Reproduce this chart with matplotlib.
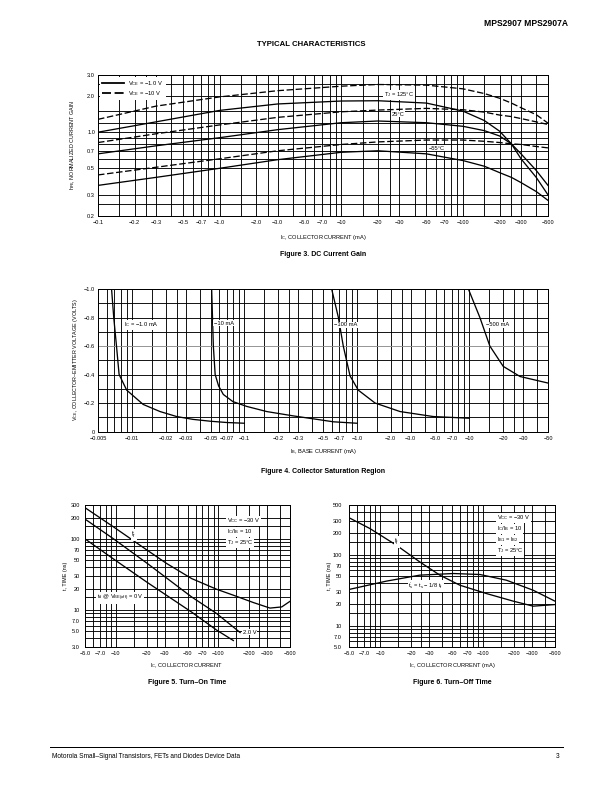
import numpy as np
import matplotlib
matplotlib.use('Agg')
import matplotlib.pyplot as plt
from matplotlib.lines import Line2D
from matplotlib.ticker import NullFormatter

plt.rcParams['font.family'] = ['Liberation Sans', 'DejaVu Sans']
plt.rcParams['mathtext.fontset'] = 'custom'
plt.rcParams['mathtext.rm'] = 'Liberation Sans'
plt.rcParams['mathtext.it'] = 'Liberation Sans:italic'

# ---------------- data ----------------
# Figure 3, DC current gain (|Ic| in mA, normalized hFE)
ic3 = [0.1, 0.3, 1, 3, 10, 20, 50, 100, 150, 200, 250, 300, 400, 500]
h125_10v = [1.28, 1.65, 1.97, 2.22, 2.42, 2.50, 2.47, 2.30, 2.10, 1.92, 1.75, 1.60, 1.40, 1.19]
h125_1v = [1.00, 1.22, 1.52, 1.72, 1.82, 1.83, 1.75, 1.50, 1.25, 1.02, 0.80, 0.60, 0.42, 0.30]
h25_10v = [0.82, 0.97, 1.15, 1.33, 1.48, 1.53, 1.58, 1.54, 1.47, 1.39, 1.35, 1.30, 1.22, 1.16]
h25_1v = [0.66, 0.77, 0.90, 1.05, 1.20, 1.24, 1.20, 1.12, 1.03, 0.93, 0.80, 0.66, 0.48, 0.36]
h55_10v = [0.44, 0.51, 0.60, 0.70, 0.79, 0.83, 0.86, 0.86, 0.84, 0.82, 0.80, 0.79, 0.76, 0.74]
h55_1v = [0.36, 0.42, 0.50, 0.59, 0.68, 0.70, 0.66, 0.58, 0.52, 0.46, 0.42, 0.38, 0.32, 0.27]
ic3_ticks = [0.1, 0.2, 0.3, 0.5, 0.7, 1, 2, 3, 5, 7, 10, 20, 30, 50, 70, 100, 200, 300, 500]
ic3_labels = ['−0.1', '−0.2', '−0.3', '−0.5', '−0.7', '−1.0', '−2.0', '−3.0', '−5.0', '−7.0',
              '−10', '−20', '−30', '−50', '−70', '−100', '−200', '−300', '−500']
h3_ticks = [0.2, 0.3, 0.5, 0.7, 1.0, 2.0, 3.0]
h3_labels = ['0.2', '0.3', '0.5', '0.7', '1.0', '2.0', '3.0']
h3_grid = [0.2, 0.25, 0.3, 0.5, 0.6, 0.7, 0.8, 0.9, 1.0, 1.2, 1.5, 2.0, 2.5, 3.0]

# Figure 4, collector saturation (|Ib| in mA, Vce in volts)
ib_1ma = [0.0066, 0.0069, 0.0073, 0.0077, 0.009, 0.0126, 0.0178, 0.025, 0.035, 0.05, 0.07, 0.1]
vce_1ma = [-1.0, -0.8, -0.6, -0.4, -0.29, -0.19, -0.14, -0.105, -0.085, -0.072, -0.063, -0.058]
ib_10ma = [0.0512, 0.053, 0.055, 0.059, 0.065, 0.079, 0.105, 0.158, 0.27, 0.47, 0.62, 1.0]
vce_10ma = [-1.0, -0.6, -0.4, -0.32, -0.26, -0.21, -0.176, -0.14, -0.11, -0.082, -0.068, -0.058]
ib_100ma = [0.597, 0.685, 0.757, 0.87, 1.03, 1.45, 2.42, 4.77, 10]
vce_100ma = [-1.0, -0.8, -0.6, -0.39, -0.29, -0.2, -0.14, -0.105, -0.093]
ib_500ma = [9.8, 12.4, 15.2, 20, 28.2, 50]
vce_500ma = [-1.0, -0.8, -0.6, -0.457, -0.386, -0.34]
ib4_ticks = [0.005, 0.01, 0.02, 0.03, 0.05, 0.07, 0.1, 0.2, 0.3, 0.5, 0.7, 1, 2, 3, 5, 7, 10, 20, 30, 50]
ib4_labels = ['−0.005', '−0.01', '−0.02', '−0.03', '−0.05', '−0.07', '−0.1', '−0.2', '−0.3', '−0.5',
              '−0.7', '−1.0', '−2.0', '−3.0', '−5.0', '−7.0', '−10', '−20', '−30', '−50']
v4_ticks = [0, -0.2, -0.4, -0.6, -0.8, -1.0]
v4_labels = ['0', '−0.2', '−0.4', '−0.6', '−0.8', '−1.0']
v4_minor = [-0.1, -0.3, -0.5, -0.7, -0.9]

# Figure 5, turn-on time (|Ic| in mA, t in ns)
ic5_tr = [5, 9.45, 20.3, 31.3, 54.9, 96.3, 140, 219, 319, 415, 500]
t5_tr = [275, 148, 69, 45, 27.6, 19.5, 16.1, 12.7, 10.6, 11.0, 13.2]
ic5_mid = [5, 9.5, 20.3, 54.9, 96, 163]
t5_mid = [190, 100, 45, 15.2, 8.9, 4.8]
ic5_low = [5, 9.5, 20.3, 54.9, 96, 140]
t5_low = [100, 52, 24.3, 9.3, 5.2, 3.7]
ic56_ticks = [5, 7, 10, 20, 30, 50, 70, 100, 200, 300, 500]
ic56_labels = ['−5.0', '−7.0', '−10', '−20', '−30', '−50', '−70', '−100', '−200', '−300', '−500']
t5_ticks = [3, 5, 7, 10, 20, 30, 50, 70, 100, 200, 300]
t5_labels = ['3.0', '5.0', '7.0', '10', '20', '30', '50', '70', '100', '200', '300']

# Figure 6, turn-off time
ic6_tf = [5, 7.94, 14.4, 24.3, 38.1, 59.6, 108, 197, 307, 500]
t6_tf = [331, 234, 136, 79, 51.4, 37.1, 28.3, 22.1, 18.8, 19.8]
ic6_ts = [5, 11.5, 24.3, 51.3, 93.3, 169, 307, 500]
t6_ts = [32.3, 42.3, 51.4, 54.2, 52.5, 43.6, 31.5, 22.1]
t6_ticks = [5, 7, 10, 20, 30, 50, 70, 100, 200, 300, 500]
t6_labels = ['5.0', '7.0', '10', '20', '30', '50', '70', '100', '200', '300', '500']

# ---------------- helpers ----------------
W, H = 612, 792
fig = plt.figure(figsize=(W / 72, H / 72), dpi=72)
TICK_FS = 5.6
NOTE_FS = 5.8


def box(l, t, r, b):
    return [l / W, 1 - b / H, (r - l) / W, (b - t) / H]


def ftext(x, y, s, **kw):
    kw.setdefault('fontsize', NOTE_FS)
    kw.setdefault('ha', 'center')
    kw.setdefault('va', 'center')
    kw.setdefault('zorder', 10)
    return fig.text(x / W, 1 - y / H, s, **kw)


def log_grid(lo, hi, mults=(1, 1.5, 2, 2.5, 3, 4, 5, 6, 7, 8, 9)):
    vals = []
    for d in range(-4, 4):
        for m in mults:
            v = m * 10.0 ** d
            if lo * 0.999 <= v <= hi * 1.001:
                vals.append(v)
    return vals


def setup(ax, xlim, ylim, xt, xl, yt, yl, xg, yg, ylog=True, ypad=3):
    ax.set_xscale('log')
    if ylog:
        ax.set_yscale('log')
    ax.set_xlim(*xlim)
    ax.set_ylim(*ylim)
    ax.set_xticks(xt)
    ax.set_xticklabels(xl)
    ax.set_xticks(xg, minor=True)
    ax.set_yticks(yt)
    ax.set_yticklabels(yl)
    ax.set_yticks(yg, minor=True)
    ax.xaxis.set_minor_formatter(NullFormatter())
    ax.yaxis.set_minor_formatter(NullFormatter())
    ax.tick_params(which='both', length=0, labelsize=TICK_FS)
    ax.tick_params(axis='x', pad=4)
    ax.tick_params(axis='y', pad=ypad)
    ax.grid(True, which='both', color='black', lw=0.9)
    for s in ax.spines.values():
        s.set_linewidth(1.0)


lab_box = dict(facecolor='white', edgecolor='none', pad=0.6)
LW = 1.3

# ---------------- header ----------------
ftext(568, 23, 'MPS2907 MPS2907A', fontsize=8.5, weight='bold', ha='right')
ftext(311, 45, 'TYPICAL CHARACTERISTICS', fontsize=7.8, weight='bold')

# ---------------- Figure 3 ----------------
ax3 = fig.add_axes(box(98, 75, 548, 216))
setup(ax3, (0.1, 500), (0.2, 3.0), ic3_ticks, ic3_labels, h3_ticks, h3_labels,
      log_grid(0.1, 500), h3_grid)
dash = (5, 2)
ax3.plot(ic3, h125_1v, 'k-', lw=LW, label=r'V$_{\rm CE}$ = −1.0 V')
ax3.plot(ic3, h125_10v, 'k--', lw=LW, dashes=dash, label=r'V$_{\rm CE}$ = −10 V')
ax3.plot(ic3, h25_1v, 'k-', lw=LW)
ax3.plot(ic3, h25_10v, 'k--', lw=LW, dashes=dash)
ax3.plot(ic3, h55_1v, 'k-', lw=LW)
ax3.plot(ic3, h55_10v, 'k--', lw=LW, dashes=dash)
leg = ax3.legend(loc='upper left', fontsize=NOTE_FS, handlelength=3.8, frameon=True, fancybox=False,
                 framealpha=1, edgecolor='white', borderpad=0.25, labelspacing=0.25,
                 borderaxespad=0.4, handletextpad=0.8)
for ln in leg.get_lines():
    ln.set_linewidth(1.8)
ftext(399, 95, r'T$_{\rm J}$ = 125°C', bbox=lab_box)
ftext(398, 114, '25°C', bbox=lab_box)
ftext(437, 148, '−55°C', bbox=lab_box)
ftext(323, 237, r'I$_{\rm C}$, COLLECTOR CURRENT (mA)', fontsize=5.6)
ftext(73, 145, r'h$_{\rm FE}$, NORMALIZED CURRENT GAIN', rotation=90, fontsize=5.4)
ftext(323, 254, 'Figure 3. DC Current Gain', fontsize=7, weight='bold')

# ---------------- Figure 4 ----------------
ax4 = fig.add_axes(box(98, 289, 548, 431.5))
setup(ax4, (0.005, 50), (0, -1.0), ib4_ticks, ib4_labels, v4_ticks, v4_labels,
      log_grid(0.005, 50), v4_minor, ylog=False)
for tk, v in zip(ax4.yaxis.get_major_ticks(), v4_ticks):
    if v == -0.6:
        tk.gridline.set_color('0.55')
ax4.plot(ib_1ma, vce_1ma, 'k-', lw=LW)
ax4.plot(ib_10ma, vce_10ma, 'k-', lw=LW)
ax4.plot(ib_100ma, vce_100ma, 'k-', lw=LW)
ax4.plot(ib_500ma, vce_500ma, 'k-', lw=LW)
ftext(124, 325, r'I$_{\rm C}$ = −1.0 mA', ha='left', bbox=lab_box)
ftext(214, 323, '−10 mA', ha='left', bbox=lab_box)
ftext(334, 325, '−100 mA', ha='left', bbox=lab_box)
ftext(486, 325, '−500 mA', ha='left', bbox=lab_box)
ftext(323, 451, r'I$_{\rm B}$, BASE CURRENT (mA)', fontsize=5.6)
ftext(76, 360, r'V$_{\rm CE}$, COLLECTOR–EMITTER VOLTAGE (VOLTS)', rotation=90, fontsize=5.4)
ftext(323, 472, 'Figure 4. Collector Saturation Region', fontsize=7, weight='bold')

# ---------------- Figure 5 ----------------
ax5 = fig.add_axes(box(85, 505, 290, 647))
setup(ax5, (5, 500), (3, 300), ic56_ticks, ic56_labels, t5_ticks, t5_labels,
      log_grid(5, 500), log_grid(3, 300, (1, 1.5, 2, 3, 4, 5, 6, 7, 8, 9)), ypad=5)
ax5.plot(ic5_tr, t5_tr, 'k-', lw=LW)
ax5.plot(ic5_mid, t5_mid, 'k-', lw=LW)
ax5.plot(ic5_low, t5_low, 'k-', lw=LW)
ftext(227, 521, r'V$_{\rm CC}$ = −30 V', ha='left', bbox=lab_box)
ftext(227, 532, r'I$_{\rm C}$/I$_{\rm B}$ = 10', ha='left', bbox=lab_box)
ftext(227, 543, r'T$_{\rm J}$ = 25°C', ha='left', bbox=lab_box)
ftext(134, 535, r't$_{\rm r}$', bbox=lab_box, fontsize=6.5)
ftext(97, 598, r't$_{\rm d}$ @ V$_{\rm BE(off)}$ = 0 V', ha='left', bbox=lab_box)
ftext(243, 632, '2.0 V', ha='left', bbox=lab_box)
ftext(187, 666, r'I$_{\rm C}$, COLLECTOR CURRENT', fontsize=5.6)
ftext(66, 576, 't, TIME (ns)', rotation=90, fontsize=5.4)
ftext(187, 683, 'Figure 5. Turn–On Time', fontsize=7, weight='bold')

# ---------------- Figure 6 ----------------
ax6 = fig.add_axes(box(349, 505, 555, 647))
setup(ax6, (5, 500), (5, 500), ic56_ticks, ic56_labels, t6_ticks, t6_labels,
      log_grid(5, 500), log_grid(5, 500, (1, 1.5, 2, 3, 4, 5, 6, 7, 8, 9)), ypad=7)
ax6.plot(ic6_tf, t6_tf, 'k-', lw=LW)
ax6.plot(ic6_ts, t6_ts, 'k-', lw=LW)
ftext(497, 518, r'V$_{\rm CC}$ = −30 V', ha='left', bbox=lab_box)
ftext(497, 529, r'I$_{\rm C}$/I$_{\rm B}$ = 10', ha='left', bbox=lab_box)
ftext(497, 540, r'I$_{\rm B1}$ = I$_{\rm B2}$', ha='left', bbox=lab_box)
ftext(497, 551, r'T$_{\rm J}$ = 25°C', ha='left', bbox=lab_box)
ftext(397, 542, r't$_{\rm f}$', bbox=lab_box, fontsize=6.5)
ftext(426, 586, r't$^\prime_{\rm s}$ = t$_{\rm s}$ − 1/8 t$_{\rm f}$', bbox=lab_box)
ftext(452, 666, r'I$_{\rm C}$, COLLECTOR CURRENT (mA)', fontsize=5.6)
ftext(330, 576, 't, TIME (ns)', rotation=90, fontsize=5.4)
ftext(452, 683, 'Figure 6. Turn–Off Time', fontsize=7, weight='bold')

# ---------------- footer ----------------
fig.add_artist(Line2D([50 / W, 563 / W], [1 - 747 / H, 1 - 747 / H], color='black', lw=1.0))
ftext(52, 757, 'Motorola Small–Signal Transistors, FETs and Diodes Device Data', fontsize=6.5, ha='left')
ftext(559, 757, '3', fontsize=6.5, ha='right')

fig.savefig('out.png', dpi=72)
